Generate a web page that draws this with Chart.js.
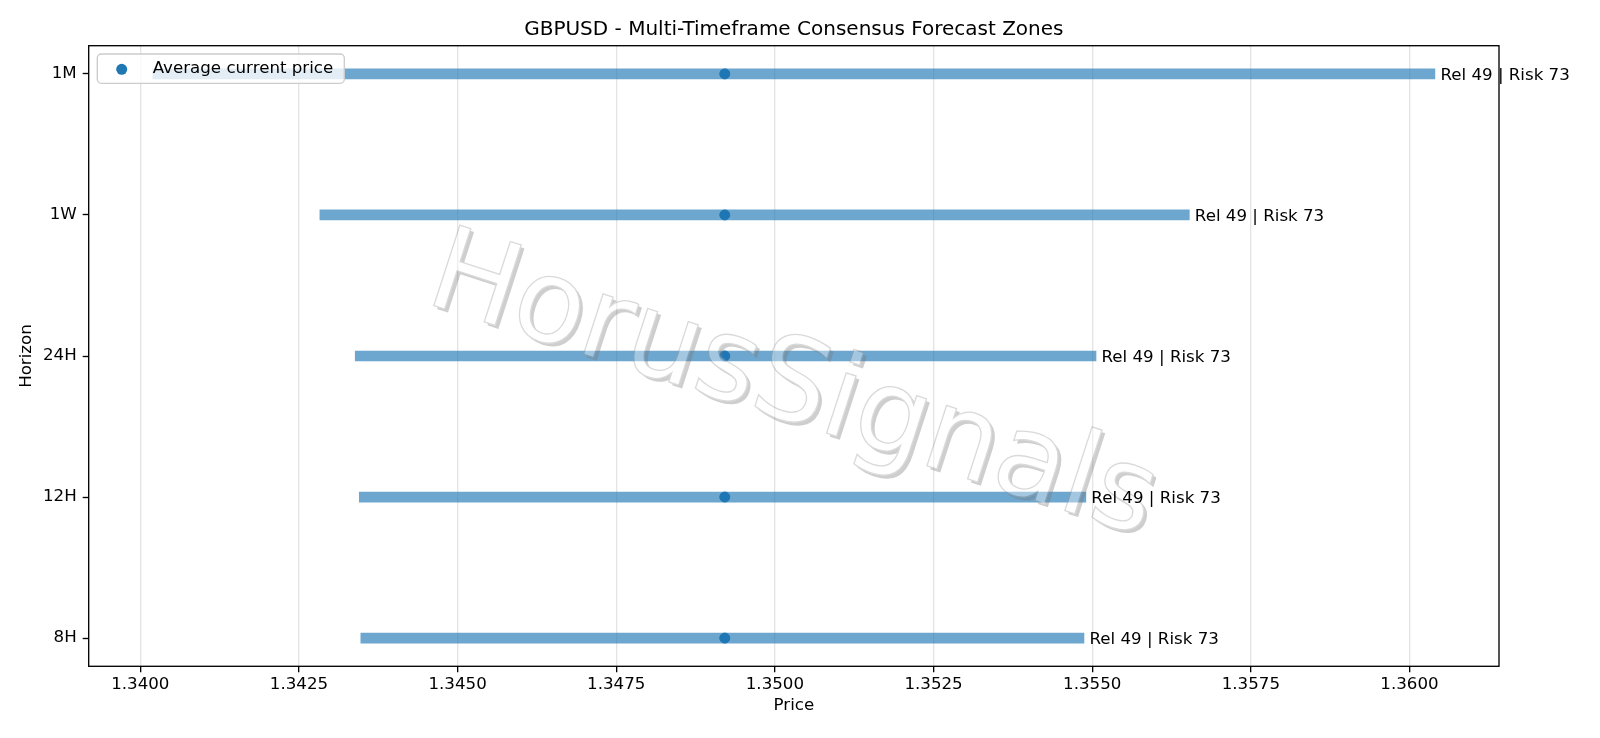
<!DOCTYPE html>
<html><head><meta charset="utf-8">
<script src="https://cdn.jsdelivr.net/npm/chart.js@4.4.0/dist/chart.umd.min.js"></script>
<style>html,body{margin:0;padding:0;background:#fff;} canvas{display:block;}</style>
</head><body>
<canvas id="c" width="1600" height="738"></canvas>
<script>
// ---- data ----
const horizons = ['8H', '12H', '24H', '1W', '1M'];
const zoneLow  = [1.343475, 1.343451, 1.343387, 1.342830, 1.340197];
const zoneHigh = [1.354870, 1.354900, 1.355060, 1.356530, 1.360400];
const currentPrice = [1.34921, 1.34921, 1.34921, 1.34921, 1.34921];
const reliability = [49, 49, 49, 49, 49];
const riskScore = [73, 73, 73, 73, 73];
const xTickValues = [1.3400, 1.3425, 1.3450, 1.3475, 1.3500, 1.3525, 1.3550, 1.3575, 1.3600];
const titleText = 'GBPUSD - Multi-Timeframe Consensus Forecast Zones';
const legendText = 'Average current price';
const watermarkText = 'HorusSignals';

// matplotlib-style 5% auto margins
const dMin = Math.min(...zoneLow, ...currentPrice), dMax = Math.max(...zoneHigh, ...currentPrice);
const xMin = dMin - 0.05 * (dMax - dMin), xMax = dMax + 0.05 * (dMax - dMin);
const yMin = -0.2, yMax = horizons.length - 1 + 0.2;

const FONT = '"DejaVu Sans", "Liberation Sans", sans-serif';
Chart.defaults.font.family = FONT;
Chart.defaults.font.size = 16.67;
Chart.defaults.color = '#000';

const C0 = '#1f77b4';

function drawWatermark(chart) {
  const ca = chart.chartArea;
  const cx = (ca.left + ca.right) / 2 - 11;
  const cy = (ca.top + ca.bottom) / 2 + 63;
  const ang = 18 * Math.PI / 180;
  const off = document.createElement('canvas');
  off.width = chart.width; off.height = chart.height;
  const o = off.getContext('2d');
  o.font = '116px ' + FONT;
  o.textAlign = 'center';
  o.textBaseline = 'alphabetic';
  // shadow
  o.save(); o.translate(cx + 3.3, cy + 3.3); o.rotate(ang);
  o.fillStyle = '#7a7a7a'; o.fillText(watermarkText, 0, 0); o.restore();
  // face
  o.save(); o.translate(cx, cy); o.rotate(ang);
  o.fillStyle = '#ffffff'; o.fillText(watermarkText, 0, 0);
  o.lineWidth = 1.3; o.strokeStyle = '#9a9a9a'; o.strokeText(watermarkText, 0, 0);
  o.restore();
  const ctx = chart.ctx;
  ctx.save();
  ctx.globalAlpha = 0.37;
  ctx.drawImage(off, 0, 0);
  ctx.restore();
}

const overlay = {
  id: 'overlay',
  afterDatasetDraw(chart, args) {
    if (args.index === 0) drawWatermark(chart);
  },
  afterDraw(chart) {
    const ctx = chart.ctx, ca = chart.chartArea;
    const xs = chart.scales.x, ys = chart.scales.y;
    ctx.save();
    // spines
    ctx.strokeStyle = '#000'; ctx.lineWidth = 1.33;
    ctx.strokeRect(ca.left, ca.top, ca.right - ca.left, ca.bottom - ca.top);
    // annotations
    ctx.font = '16.67px ' + FONT;
    ctx.fillStyle = '#000';
    ctx.textAlign = 'left'; ctx.textBaseline = 'alphabetic';
    horizons.forEach((h, i) => {
      const x = xs.getPixelForValue(zoneHigh[i]) + 5.5;
      const y = ys.getPixelForValue(i) + 6;
      ctx.fillText('Rel ' + reliability[i] + ' | Risk ' + riskScore[i], x, y);
    });
    // title
    ctx.font = '20px ' + FONT;
    ctx.textAlign = 'center';
    ctx.fillText(titleText, (ca.left + ca.right) / 2, 35);
    // legend
    const lx = ca.left + 8.6, ly = ca.top + 8.3, lw = 247, lh = 29.3;
    ctx.beginPath();
    ctx.roundRect(lx, ly, lw, lh, 4);
    ctx.fillStyle = 'rgba(255,255,255,0.8)';
    ctx.fill();
    ctx.strokeStyle = '#cccccc'; ctx.lineWidth = 1.33;
    ctx.stroke();
    ctx.beginPath();
    ctx.arc(lx + 24.4, ly + 15.3, 5.5, 0, Math.PI * 2);
    ctx.fillStyle = C0; ctx.fill();
    ctx.font = '16.67px ' + FONT;
    ctx.fillStyle = '#000'; ctx.textAlign = 'left';
    ctx.fillText(legendText, lx + 55.4, ly + 19.3);
    ctx.restore();
  }
};

new Chart(document.getElementById('c'), {
  type: 'bar',
  data: {
    datasets: [
      {
        type: 'bar',
        label: 'zones',
        data: horizons.map((h, i) => ({ y: i, x: [zoneLow[i], zoneHigh[i]] })),
        backgroundColor: 'rgba(31,119,180,0.65)',
        borderWidth: 0,
        barThickness: 10,
        xAxisID: 'x', yAxisID: 'y'
      },
      {
        type: 'scatter',
        label: legendText,
        data: currentPrice.map((p, i) => ({ x: p, y: i })),
        backgroundColor: C0,
        borderColor: C0,
        pointRadius: 5,
        pointBorderWidth: 1,
        showLine: false,
        xAxisID: 'x', yAxisID: 'y'
      }
    ]
  },
  options: {
    indexAxis: 'y',
    responsive: false,
    animation: false,
    events: [],
    layout: { padding: { top: 45.7, right: 101, bottom: 0, left: 0 } },
    plugins: { legend: { display: false }, tooltip: { enabled: false }, title: { display: false } },
    scales: {
      x: {
        type: 'linear', position: 'bottom', min: xMin, max: xMax, offset: false,
        afterBuildTicks: s => { s.ticks = xTickValues.map(v => ({ value: v })); },
        afterFit: s => { s.height = 71.7; },
        ticks: { callback: v => Number(v).toFixed(4), padding: 2, maxRotation: 0, autoSkip: false, font: { size: 16.67 } },
        grid: { offset: false, color: '#e4e4e4', lineWidth: 1.33, tickColor: '#000', tickWidth: 1.33, tickLength: 6, drawTicks: true },
        border: { display: false },
        title: { display: true, text: 'Price', font: { size: 16.67 }, padding: { top: 0, bottom: 22 } }
      },
      y: {
        type: 'linear', position: 'left', min: yMin, max: yMax, offset: false,
        afterBuildTicks: s => { s.ticks = horizons.map((h, i) => ({ value: i })); },
        afterFit: s => { s.width = 88.7; },
        ticks: { callback: v => horizons[v], padding: 6, autoSkip: false, font: { size: 16.67 } },
        grid: { offset: false, drawOnChartArea: false, tickColor: '#000', tickWidth: 1.33, tickLength: 6 },
        border: { display: false },
        title: { display: true, text: 'Horizon', font: { size: 16.67 }, padding: { top: 17, bottom: 0 } }
      }
    }
  },
  plugins: [overlay]
});
</script>
</body></html>
